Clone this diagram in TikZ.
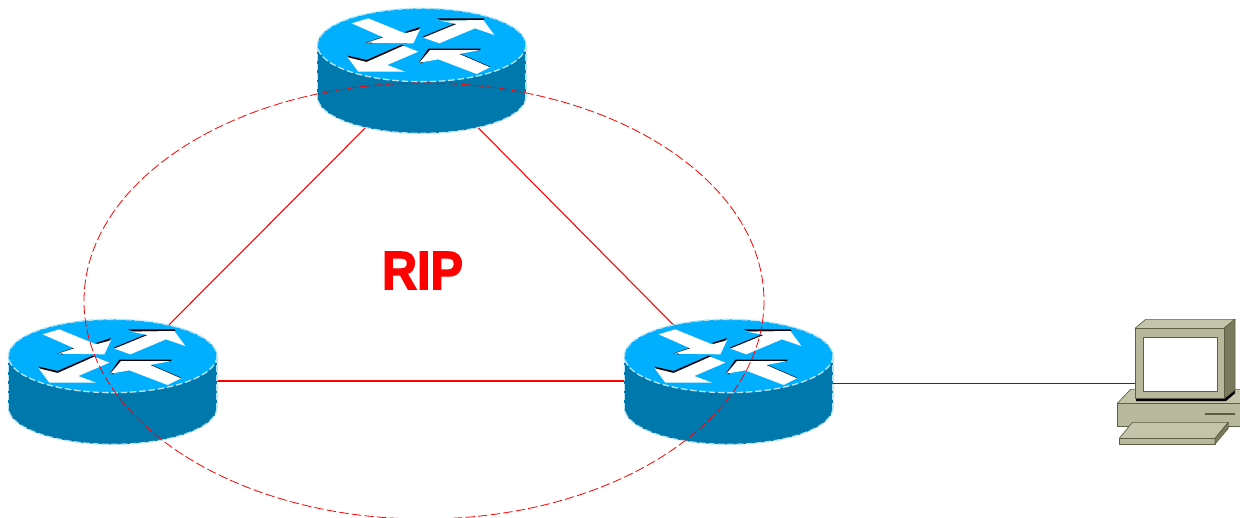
\documentclass[tikz,border=0pt]{standalone}
\usepackage{fontspec}
\usepackage{graphicx}
\setmainfont{Liberation Sans}
\newfontfamily\ripfont[BoldFeatures={FakeBold=2.5}]{Liberation Sans}
\definecolor{rtop}{HTML}{00B0FF}
\definecolor{rside}{HTML}{0078AB}
\definecolor{rline}{HTML}{B4E4F6}
\definecolor{linkred}{HTML}{FF0000}
\definecolor{pcface}{HTML}{B8B89C}
\definecolor{pclight}{HTML}{C4C4AA}
\definecolor{pcdark}{HTML}{7A7A5C}
\definecolor{pcedge}{HTML}{5E5E44}
\tikzset{
  anchorbox/.style={minimum width=157pt,minimum height=94pt,inner sep=0pt},
  link/.style={linkred,line width=.8pt},
  pclink/.style={black!80,line width=.7pt},
  ripzone/.style={linkred,line width=.6pt,dash pattern=on 7pt off 2.5pt},
  routeredge/.style={rline,line width=1pt,dash pattern=on 5pt off 2pt},
  arrowwhite/.style={fill=white,draw=none},
  arrowblack/.style={fill=black,draw=none},
  pcpart/.style={draw=pcedge,line width=.5pt,line join=round},
}
\newcommand{\drawrouter}[2]{%
\begin{scope}[shift={(#1,#2)},x=.25pt,y=-.25pt]
  \draw[routeredge,fill=rside] (365,290) ellipse [x radius=313,y radius=110];
  \fill[rside] (52,135) rectangle (678,290);
  \draw[routeredge] (52,135) -- (52,290) (678,135) -- (678,290);
  \draw[routeredge,fill=rtop] (365,135) ellipse [x radius=313,y radius=110];
  % shadows
  \fill[arrowblack] (315,96) -- (360,81) -- (352,92) -- (325,101) -- cycle;
  \fill[arrowblack] (197,128) -- (250,110) -- (255,116) -- (215,130) -- cycle;
  \fill[arrowblack] (410,55) -- (552,55) -- (552,61) -- (425,61) -- cycle;
  \fill[arrowblack] (368,110) -- (468,69) -- (472,74) -- (378,114) -- cycle;
  \fill[arrowblack] (143,167) -- (200,180) -- (305,134) -- (315,138) -- (200,187) -- (150,176) -- cycle;
  \fill[arrowblack] (385,146) -- (542,146) -- (540,151) -- (392,151) -- (366,190) -- (357,187) -- cycle;
  \fill[arrowblack] (478,160) -- (570,200) -- (566,204) -- (474,164) -- cycle;
  % white arrows
  \fill[arrowwhite] (155,70) -- (205,55) -- (315,100) -- (360,88) -- (340,130) -- (200,128) -- (250,112) -- cycle;
  \fill[arrowwhite] (420,62) -- (550,60) -- (583,105) -- (525,85) -- (418,130) -- (370,113) -- (470,72) -- cycle;
  \fill[arrowwhite] (143,172) -- (200,186) -- (310,137) -- (355,155) -- (262,195) -- (315,215) -- (175,215) -- cycle;
  \fill[arrowwhite] (390,150) -- (540,150) -- (478,162) -- (570,202) -- (530,222) -- (415,178) -- (358,188) -- cycle;
\end{scope}}
\begin{document}
\begin{tikzpicture}[x=.75pt,y=-.75pt]
\useasboundingbox (0,0) rectangle (1240,518);
\clip (0,0) rectangle (1240,518);
% anchor nodes, connectors run centre to centre behind the devices
\node[anchorbox] (top) at (422,71) {};
\node[anchorbox] (left) at (113,381) {};
\node[anchorbox] (right) at (729,381) {};
\node[anchorbox] (rightb) at (729,383) {};
\node[minimum width=90pt,minimum height=90pt,inner sep=0pt] (pc) at (1178,383) {};
\draw[link] (top.center) -- (left.center);
\draw[link] (top.center) -- (right.center);
\draw[link] (left.center) -- (right.center);
\draw[pclink] (rightb.center) -- (pc.center);
% routers
\drawrouter{300}{0}
\drawrouter{-9}{311}
\drawrouter{607}{311}
% workstation
\begin{scope}[shift={(1100,310)},x=.25pt,y=-.25pt]
  \draw[pcpart,fill=pclight] (52,280) -- (92,238) -- (425,238) -- (425,280) -- cycle;
  \draw[pcpart,fill=pcface] (52,280) rectangle (425,350);
  \draw[pcedge,line width=.9pt] (315,312) -- (405,312);
  \draw[pcpart,fill=pclight] (58,385) -- (97,337) -- (385,337) -- (345,385) -- cycle;
  \draw[pcpart,fill=pcface] (58,385) rectangle (345,402);
  \draw[pcpart,fill=pcdark] (345,385) -- (385,337) -- (385,355) -- (345,402) -- cycle;
  \fill[black] (108,265) -- (372,265) -- (405,240) -- (405,250) -- (378,273) -- (108,273) -- cycle;
  \draw[pcpart,fill=pclight] (105,55) -- (137,28) -- (405,28) -- (372,55) -- cycle;
  \draw[pcpart,fill=pcdark] (372,55) -- (405,28) -- (405,240) -- (372,266) -- cycle;
  \draw[pcpart,fill=pcface] (105,55) rectangle (372,266);
  \draw[pcpart,fill=white] (130,82) rectangle (352,245);
\end{scope}
% RIP domain
\draw[ripzone] (424,301) ellipse [x radius=340,y radius=218];
\node[text=linkred,inner sep=0pt] (rip) at (422.5,270.5) {\scalebox{.9}[1]{\ripfont\fontsize{40.5pt}{40.5pt}\selectfont\bfseries RIP}};
\end{tikzpicture}
\end{document}
